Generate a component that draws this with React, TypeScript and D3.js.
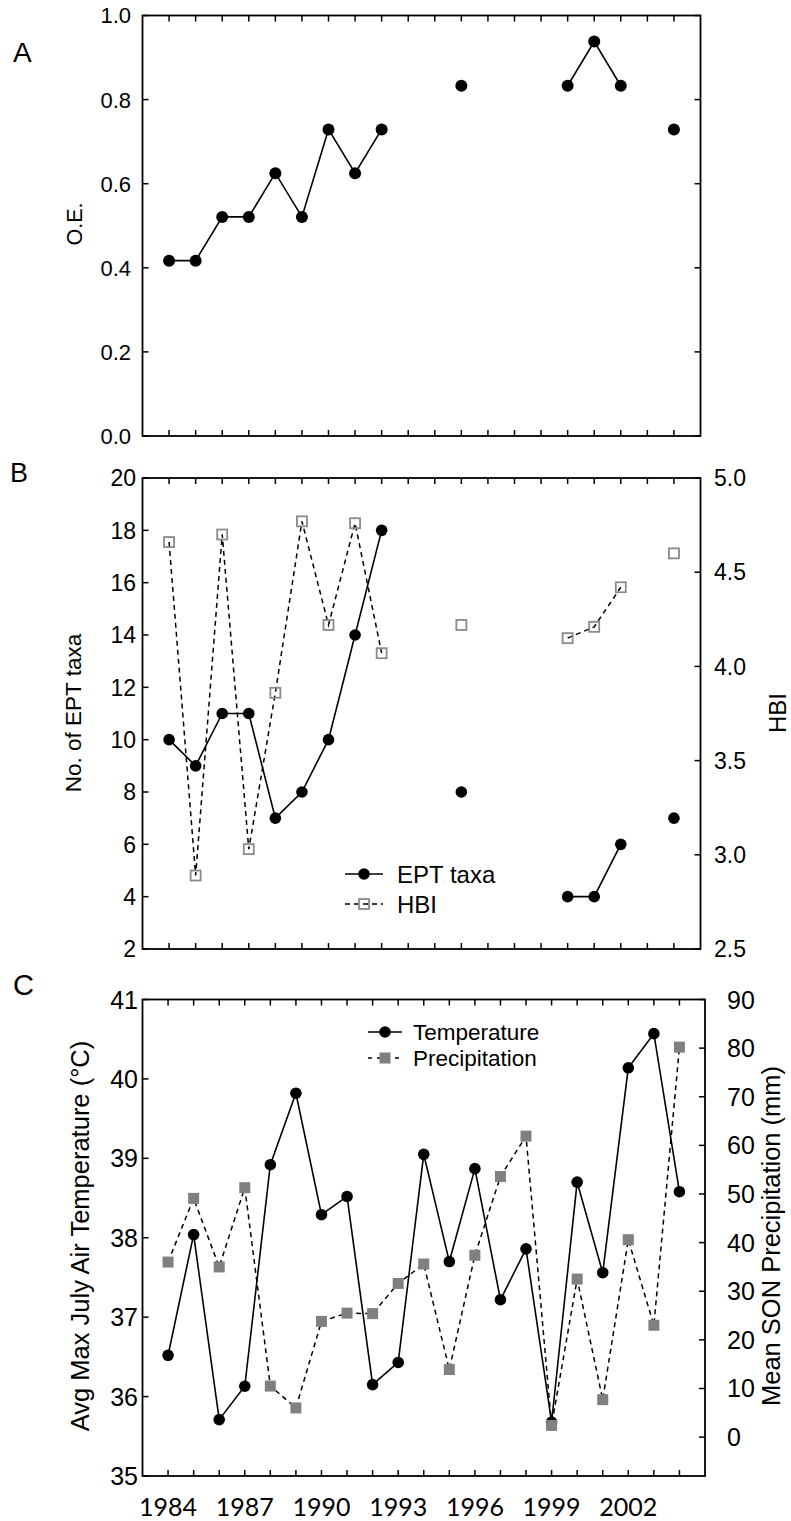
import React from 'react';
import * as d3 from 'd3';

// Sampling years for the biological indices (panels A and B)
const sampleYears = [1984, 1985, 1986, 1987, 1988, 1989, 1990, 1991, 1992, 1993,
  1994, 1995, 1996, 1997, 1998, 1999, 2000, 2001, 2002, 2003];
// Observed / expected ratio (null = not sampled)
const oeValues = [0.417, 0.417, 0.521, 0.521, 0.625, 0.521, 0.729, 0.625, 0.729, null,
  null, 0.833, null, null, null, 0.833, 0.938, 0.833, null, 0.729];
// Number of EPT taxa
const eptValues = [10, 9, 11, 11, 7, 8, 10, 14, 18, null,
  null, 8, null, null, null, 4, 4, 6, null, 7];
// Hilsenhoff biotic index
const hbiValues = [4.66, 2.89, 4.70, 3.03, 3.86, 4.77, 4.22, 4.76, 4.07, null,
  null, 4.22, null, null, null, 4.15, 4.21, 4.42, null, 4.60];

// Climate record (panel C)
const climateYears = [1984, 1985, 1986, 1987, 1988, 1989, 1990, 1991, 1992, 1993, 1994,
  1995, 1996, 1997, 1998, 1999, 2000, 2001, 2002, 2003, 2004];
const temperature = [36.52, 38.04, 35.71, 36.13, 38.92, 39.82, 38.29, 38.52, 36.15, 36.43, 39.05,
  37.70, 38.87, 37.22, 37.86, 35.68, 38.70, 37.56, 40.14, 40.57, 38.58];
const precipitation = [36.0, 49.1, 35.0, 51.3, 10.5, 6.0, 23.8, 25.5, 25.4, 31.6, 35.6,
  13.9, 37.4, 53.6, 61.9, 2.4, 32.5, 7.7, 40.6, 23.0, 80.2];

// Tick values
const oeTicks = [0, 0.2, 0.4, 0.6, 0.8, 1.0];
const eptTicks = [2, 4, 6, 8, 10, 12, 14, 16, 18, 20];
const hbiTicks = [2.5, 3.0, 3.5, 4.0, 4.5, 5.0];
const tempTicks = [35, 36, 37, 38, 39, 40, 41];
const precipTicks = [0, 10, 20, 30, 40, 50, 60, 70, 80, 90];
const yearLabels = [1984, 1987, 1990, 1993, 1996, 1999, 2002];

const W = 791;
const H = 1521;
const SANS = "'Liberation Sans', Arial, Helvetica, sans-serif";
const CAL = "Lato, 'Open Sans', sans-serif";
const TICK = 6;

type Pt = [number, number | null];

function Frame({ x0, x1, y0, y1 }: { x0: number; x1: number; y0: number; y1: number }) {
  return <rect x={x0} y={y0} width={x1 - x0} height={y1 - y0} fill="none" stroke="#000" strokeWidth={1.8} />;
}

function XTicks({ xs, ticks, y0, y1 }: { xs: d3.ScaleLinear<number, number>; ticks: number[]; y0: number; y1: number }) {
  return (
    <g stroke="#000" strokeWidth={1.5}>
      {ticks.map((t) => (
        <g key={t}>
          <line x1={xs(t)} x2={xs(t)} y1={y0} y2={y0 + TICK} />
          <line x1={xs(t)} x2={xs(t)} y1={y1} y2={y1 - TICK} />
        </g>
      ))}
    </g>
  );
}

function YTicks({ ys, ticks, x, dir }: { ys: d3.ScaleLinear<number, number>; ticks: number[]; x: number; dir: number }) {
  return (
    <g stroke="#000" strokeWidth={1.5}>
      {ticks.map((t) => (
        <line key={t} x1={x} x2={x + dir * TICK} y1={ys(t)} y2={ys(t)} />
      ))}
    </g>
  );
}

function YLabels({ ys, ticks, x, anchor, size, fmt }: {
  ys: d3.ScaleLinear<number, number>; ticks: number[]; x: number; anchor: string; size: number; fmt: (v: number) => string;
}) {
  return (
    <g fontFamily={SANS} fontSize={size} fill="#000" textAnchor={anchor}>
      {ticks.map((t) => (
        <text key={t} x={x} y={ys(t)} dy="0.36em">{fmt(t)}</text>
      ))}
    </g>
  );
}

function VLabel({ x, y, size, text }: { x: number; y: number; size: number; text: string }) {
  return (
    <text transform={`translate(${x},${y}) rotate(-90)`} textAnchor="middle" dy="0.36em"
      fontFamily={SANS} fontSize={size} fill="#000">{text}</text>
  );
}

function pairs(xs: number[], vs: (number | null)[]): Pt[] {
  return xs.map((x, i) => [x, vs[i]] as Pt);
}

export default function App() {
  // Panels A and B share the sampling-year axis
  const xAB = d3.scaleLinear().domain([1983, 2004]).range([142.5, 700.5]);
  const yA = d3.scaleLinear().domain([0, 1]).range([436, 15.5]);
  const yB = d3.scaleLinear().domain([2, 20]).range([949, 478]);
  const yB2 = d3.scaleLinear().domain([2.5, 5]).range([949, 478]);
  const xC = d3.scaleLinear().domain([1983, 2005]).range([142.5, 705]);
  const yC = d3.scaleLinear().domain([35, 41]).range([1476, 999.5]);
  const yC2 = d3.scaleLinear().domain([-8, 90]).range([1476, 999.5]);

  const mkLine = (xs: d3.ScaleLinear<number, number>, ys: d3.ScaleLinear<number, number>) =>
    d3.line<Pt>().defined((d) => d[1] != null).x((d) => xs(d[0])).y((d) => ys(d[1] as number));

  const oe = pairs(sampleYears, oeValues);
  const ept = pairs(sampleYears, eptValues);
  const hbi = pairs(sampleYears, hbiValues);
  const temp = pairs(climateYears, temperature);
  const prec = pairs(climateYears, precipitation);

  const fmt1 = d3.format('.1f');
  const fmt0 = d3.format('d');
  const sq = 10;
  const sqC = 11;

  return (
    <svg width={W} height={H} viewBox={`0 0 ${W} ${H}`} style={{ position: 'absolute', left: 0, top: 0, background: '#fff' }}>
      <rect x={0} y={0} width={W} height={H} fill="#fff" />

      {/* Panel A: O/E */}
      <text x={13} y={62} fontFamily={SANS} fontSize={28} fill="#000">A</text>
      <XTicks xs={xAB} ticks={sampleYears} y0={yA.range()[1]} y1={yA.range()[0]} />
      <YTicks ys={yA} ticks={oeTicks} x={xAB.range()[0]} dir={1} />
      <YTicks ys={yA} ticks={oeTicks} x={xAB.range()[1]} dir={-1} />
      <YLabels ys={yA} ticks={oeTicks} x={131} anchor="end" size={22} fmt={fmt1} />
      <VLabel x={74} y={224} size={21.5} text="O.E." />
      <path d={mkLine(xAB, yA)(oe) ?? ''} fill="none" stroke="#000" strokeWidth={1.6} />
      {oe.filter((d) => d[1] != null).map((d) => (
        <circle key={d[0]} cx={xAB(d[0])} cy={yA(d[1] as number)} r={6} fill="#000" />
      ))}
      <Frame x0={xAB.range()[0]} x1={xAB.range()[1]} y0={yA.range()[1]} y1={yA.range()[0]} />

      {/* Panel B: EPT taxa and HBI */}
      <text x={10} y={482} fontFamily={SANS} fontSize={27} fill="#000">B</text>
      <XTicks xs={xAB} ticks={sampleYears} y0={yB.range()[1]} y1={yB.range()[0]} />
      <YTicks ys={yB} ticks={eptTicks} x={xAB.range()[0]} dir={1} />
      <YTicks ys={yB2} ticks={hbiTicks} x={xAB.range()[1]} dir={-1} />
      <YLabels ys={yB} ticks={eptTicks} x={136} anchor="end" size={23} fmt={fmt0} />
      <YLabels ys={yB2} ticks={hbiTicks} x={714} anchor="start" size={23} fmt={fmt1} />
      <VLabel x={73} y={713} size={22.5} text="No. of EPT taxa" />
      <VLabel x={777} y={713} size={24} text="HBI" />
      <path d={mkLine(xAB, yB2)(hbi) ?? ''} fill="none" stroke="#000" strokeWidth={1.5} strokeDasharray="5,4" />
      {hbi.filter((d) => d[1] != null).map((d) => (
        <rect key={d[0]} x={xAB(d[0]) - sq / 2} y={yB2(d[1] as number) - sq / 2} width={sq} height={sq}
          fill="none" stroke="#8a8a8a" strokeWidth={1.8} />
      ))}
      <path d={mkLine(xAB, yB)(ept) ?? ''} fill="none" stroke="#000" strokeWidth={1.6} />
      {ept.filter((d) => d[1] != null).map((d) => (
        <circle key={d[0]} cx={xAB(d[0])} cy={yB(d[1] as number)} r={5.8} fill="#000" />
      ))}
      {/* legend */}
      <line x1={345} x2={383} y1={874} y2={874} stroke="#000" strokeWidth={1.6} />
      <circle cx={364} cy={874} r={5.8} fill="#000" />
      <text x={397} y={874} dy="0.36em" fontFamily={SANS} fontSize={24} fill="#000">EPT taxa</text>
      <line x1={345} x2={383} y1={904} y2={904} stroke="#000" strokeWidth={1.5} strokeDasharray="5,4" />
      <rect x={364 - sq / 2} y={904 - sq / 2} width={sq} height={sq} fill="none" stroke="#8a8a8a" strokeWidth={1.8} />
      <text x={397} y={904} dy="0.36em" fontFamily={SANS} fontSize={24} fill="#000">HBI</text>
      <Frame x0={xAB.range()[0]} x1={xAB.range()[1]} y0={yB.range()[1]} y1={yB.range()[0]} />

      {/* Panel C: temperature and precipitation */}
      <text x={13} y={995} fontFamily={SANS} fontSize={29} fill="#000">C</text>
      <XTicks xs={xC} ticks={climateYears} y0={yC.range()[1]} y1={yC.range()[0]} />
      <YTicks ys={yC} ticks={tempTicks} x={xC.range()[0]} dir={1} />
      <YTicks ys={yC2} ticks={precipTicks} x={xC.range()[1]} dir={-1} />
      <YLabels ys={yC} ticks={tempTicks} x={138} anchor="end" size={25} fmt={fmt0} />
      <YLabels ys={yC2} ticks={precipTicks} x={727} anchor="start" size={25} fmt={fmt0} />
      <g fontFamily={CAL} fontSize={25} fill="#000" textAnchor="middle">
        {yearLabels.map((t) => (
          <text key={t} x={xC(t)} y={1516}>{t}</text>
        ))}
      </g>
      <VLabel x={80} y={1236} size={25.5} text="Avg Max July Air Temperature (°C)" />
      <VLabel x={771} y={1236} size={25.5} text="Mean SON Precipitation (mm)" />
      <path d={mkLine(xC, yC)(temp) ?? ''} fill="none" stroke="#000" strokeWidth={1.6} />
      {temp.map((d) => (
        <circle key={d[0]} cx={xC(d[0])} cy={yC(d[1] as number)} r={5.8} fill="#000" />
      ))}
      <path d={mkLine(xC, yC2)(prec) ?? ''} fill="none" stroke="#000" strokeWidth={1.5} strokeDasharray="5,4" />
      {prec.map((d) => (
        <rect key={d[0]} x={xC(d[0]) - sqC / 2} y={yC2(d[1] as number) - sqC / 2} width={sqC} height={sqC} fill="#808080" />
      ))}
      {/* legend */}
      <line x1={368} x2={402} y1={1032} y2={1032} stroke="#000" strokeWidth={1.6} />
      <circle cx={385} cy={1032} r={5.8} fill="#000" />
      <text x={413} y={1032} dy="0.36em" fontFamily={SANS} fontSize={22.5} fill="#000">Temperature</text>
      <line x1={368} x2={402} y1={1058} y2={1058} stroke="#000" strokeWidth={1.5} strokeDasharray="4,5" />
      <rect x={385 - sqC / 2} y={1058 - sqC / 2} width={sqC} height={sqC} fill="#808080" />
      <text x={413} y={1058} dy="0.36em" fontFamily={SANS} fontSize={22.5} fill="#000">Precipitation</text>
      <Frame x0={xC.range()[0]} x1={xC.range()[1]} y0={yC.range()[1]} y1={yC.range()[0]} />
    </svg>
  );
}
